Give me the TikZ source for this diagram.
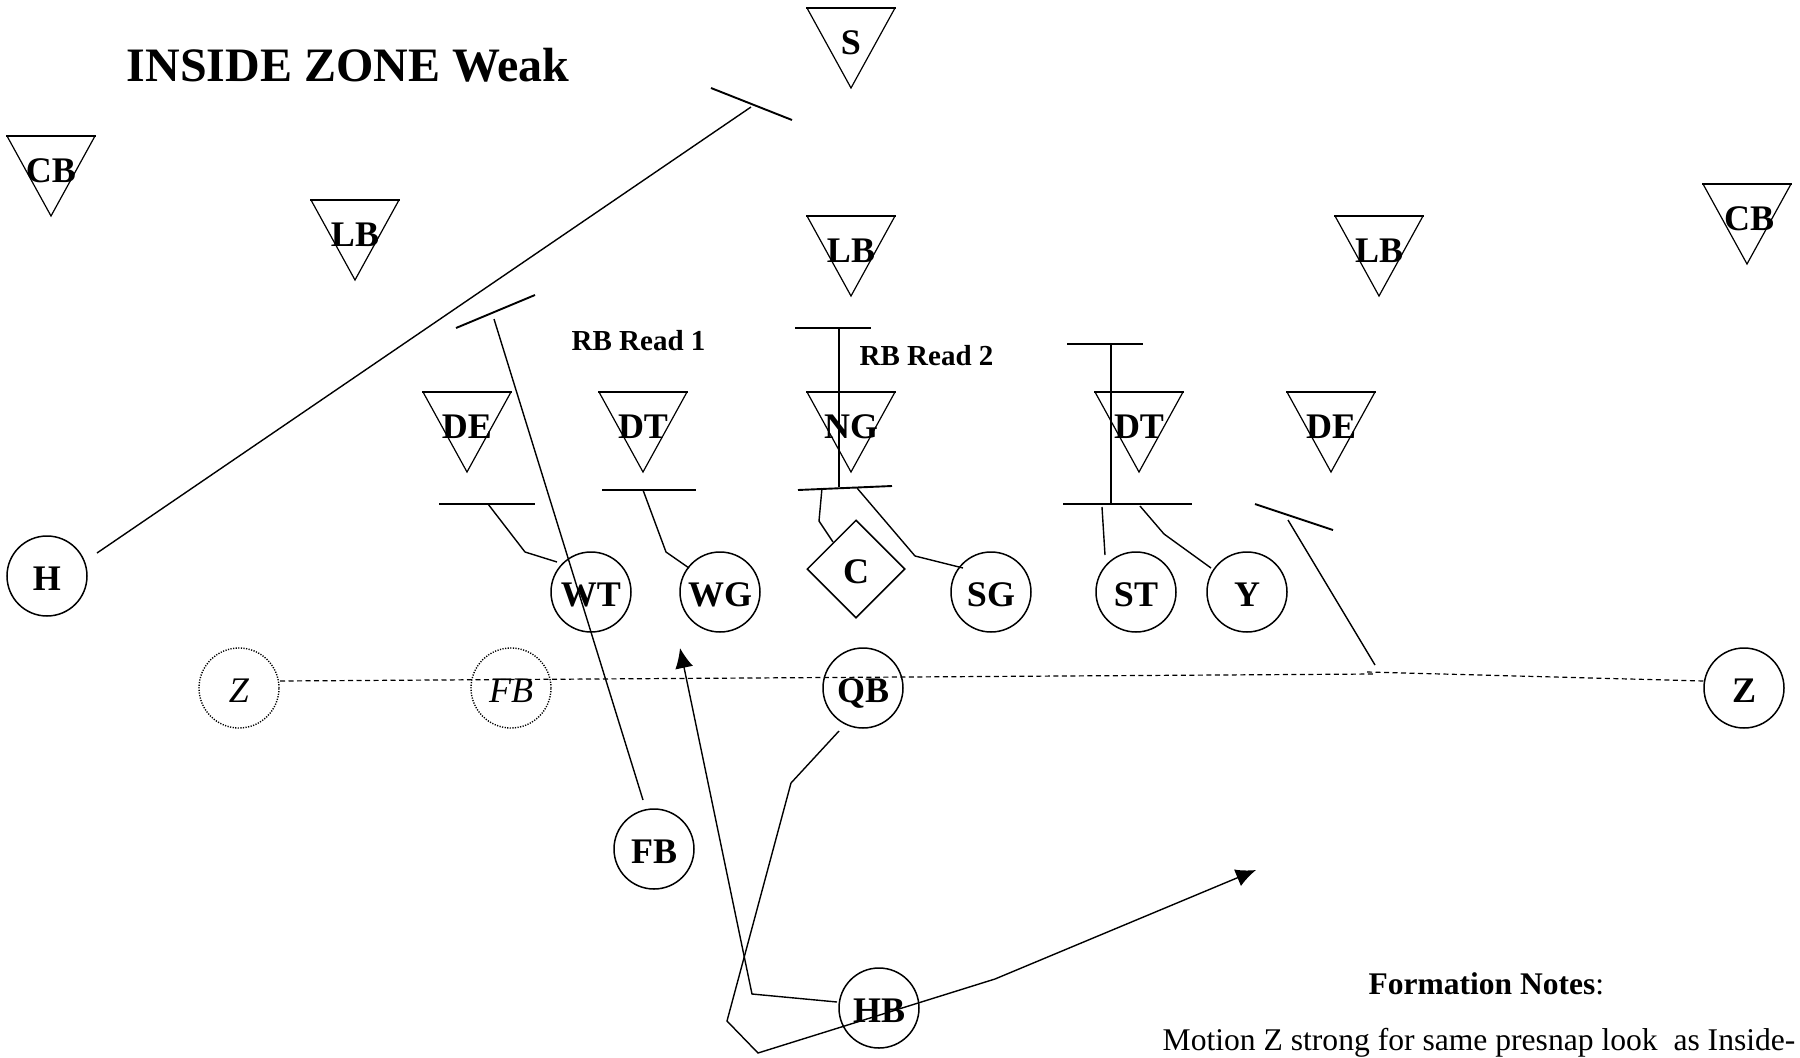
\documentclass[tikz,border=0pt]{standalone}
\usepackage{fontspec}
\setmainfont{Liberation Serif}
\usetikzlibrary{arrows.meta,shapes.geometric}
\begin{document}
\begin{tikzpicture}[x=1pt,y=-1pt,
  line width=1.4pt,
  player/.style={circle,draw,line width=1.5pt,minimum size=80pt,inner sep=0pt,text height=28pt,text depth=0pt,font=\fontsize{36}{40}\selectfont\bfseries},
  ghost/.style={circle,draw,dash pattern=on 1.2pt off 1.4pt,line width=1.4pt,minimum size=80pt,inner sep=0pt,text height=28pt,text depth=0pt,font=\fontsize{36}{40}\selectfont\itshape},
  center/.style={diamond,draw,line width=1.5pt,minimum size=98pt,inner sep=0pt,text height=28pt,text depth=0pt,font=\fontsize{36}{40}\selectfont\bfseries},
  dlabel/.style={inner sep=0pt,text height=26pt,text depth=0pt,font=\fontsize{36}{40}\selectfont\bfseries},
  route/.style={line width=1.4pt,line join=miter},
  barline/.style={line width=1.9pt},
  motion/.style={dash pattern=on 5pt off 3.5pt,line width=1.2pt},
  tip/.style={-{Latex[length=20pt,width=18pt]}},
  defender/.pic={\draw[line width=1.2pt] (-44,0) -- (0,80) -- (44,0); \draw[line width=2.8pt] (-45,0) -- (45,0);}
]
\useasboundingbox (0,0) rectangle (1800,1058);
\clip (0,0) rectangle (1800,1058);

% title and notes
\node[anchor=base west,inner sep=0pt,font=\fontsize{48}{52}\selectfont\bfseries] (title) at (126,81) {INSIDE ZONE Weak};
\node[anchor=base west,inner sep=0pt,font=\fontsize{29}{32}\selectfont\bfseries] (read1) at (571,350) {RB Read 1};
\node[anchor=base west,inner sep=0pt,font=\fontsize{29}{32}\selectfont\bfseries] (read2) at (859,365) {RB Read 2};
\node[anchor=base west,inner sep=0pt,font=\fontsize{31.5}{34}\selectfont] (fnotes) at (1368,994) {\textbf{Formation Notes}:};
\node[anchor=base west,inner sep=0pt,font=\fontsize{31.6}{35}\selectfont] (motiontext) at (1162,1050) {Motion Z strong for same presnap look~ as Inside-};

% defenders
\pic at (851,8) {defender};   \node[dlabel] (S) at (851,41) {S};
\pic at (51,136) {defender};  \node[dlabel] (CBl) at (51,169) {CB};
\pic at (355,200) {defender}; \node[dlabel] (LBl) at (355,233) {LB};
\pic at (851,216) {defender}; \node[dlabel] (LBm) at (851,249) {LB};
\pic at (1379,216) {defender};\node[dlabel] (LBr) at (1379,249) {LB};
\pic at (1747,184) {defender};\node[dlabel] (CBr) at (1749,217) {CB};
\pic at (467,392) {defender}; \node[dlabel] (DEl) at (467,425) {DE};
\pic at (643,392) {defender}; \node[dlabel] (DTl) at (643,425) {DT};
\pic at (851,392) {defender}; \node[dlabel] (NG) at (851,425) {NG};
\pic at (1139,392) {defender};\node[dlabel] (DTr) at (1139,425) {DT};
\pic at (1331,392) {defender};\node[dlabel] (DEr) at (1331,425) {DE};

% offense
\node[player] (H) at (47,576) {H};
\node[player] (WT) at (591,592) {WT};
\node[player] (WG) at (720,592) {WG};
\node[center] (C) at (856,569) {C};
\node[player] (SG) at (991,592) {SG};
\node[player] (ST) at (1136,592) {ST};
\node[player] (Y) at (1247,592) {Y};
\node[player] (QB) at (863,688) {QB};
\node[player] (Z) at (1744,688) {Z};
\node[ghost] (Zg) at (239,688) {Z};
\node[ghost] (FBg) at (511,688) {FB};
\node[player] (FB) at (654,849) {FB};
\node[player] (HB) at (879,1008) {HB};

% coordinates
\coordinate (Hs) at (97,553);   \coordinate (He) at (751,107);
\coordinate (Sb1) at (711,88);  \coordinate (Sb2) at (792,120);
\coordinate (FBs) at (643,800); \coordinate (FBe) at (494,319);
\coordinate (Fb1) at (456,328); \coordinate (Fb2) at (535,295);
\coordinate (HBs) at (837,1002);\coordinate (HBk) at (752,994); \coordinate (HBt) at (680,648);
\coordinate (QBs) at (839,731); \coordinate (Q1) at (791,783); \coordinate (Q2) at (727,1021);
\coordinate (Q3) at (758,1053); \coordinate (Q4) at (995,979); \coordinate (QBt) at (1256,870);
\coordinate (WTs) at (557,562); \coordinate (WTk) at (525,552); \coordinate (WTe) at (488,504);
\coordinate (Wb1) at (439,504); \coordinate (Wb2) at (535,504);
\coordinate (WGs) at (689,568); \coordinate (WGk) at (666,552); \coordinate (WGe) at (643,490);
\coordinate (Gb1) at (602,490); \coordinate (Gb2) at (696,490);
\coordinate (Cs) at (833,542);  \coordinate (Ck) at (819,521);  \coordinate (Ce) at (822,488);
\coordinate (Nb1) at (798,490); \coordinate (Nb2) at (892,486);
\coordinate (SGs) at (963,568); \coordinate (SGk) at (915,556); \coordinate (SGe) at (857,488);
\coordinate (Nv1) at (839,487); \coordinate (Nv2) at (839,328);
\coordinate (Nt1) at (795,328); \coordinate (Nt2) at (871,328);
\coordinate (Dv1) at (1111,504);\coordinate (Dv2) at (1111,344);
\coordinate (Dt1) at (1067,344);\coordinate (Dt2) at (1143,344);
\coordinate (Db1) at (1063,504);\coordinate (Db2) at (1192,504);
\coordinate (STs) at (1105,555);\coordinate (STe) at (1102,507);
\coordinate (Ys) at (1211,568); \coordinate (Yk) at (1164,534); \coordinate (Ye) at (1140,506);
\coordinate (Zs) at (1375,665); \coordinate (Ze) at (1288,520);
\coordinate (Zb1) at (1255,504);\coordinate (Zb2) at (1333,530);
\coordinate (M1) at (280,681);  \coordinate (M2) at (1375,674);
\coordinate (M3) at (1367,672); \coordinate (M4) at (1704,681);

% motion
\draw[motion] (M1) -- (M2);
\draw[motion] (M3) -- (M4);

% routes
\draw[route] (Hs) -- (He);
\draw[barline] (Sb1) -- (Sb2);
\draw[route] (FBs) -- (FBe);
\draw[barline] (Fb1) -- (Fb2);
\draw[route,tip] (HBs) -- (HBk) -- (HBt);
\draw[route,tip] (QBs) -- (Q1) -- (Q2) -- (Q3) -- (Q4) -- (QBt);
\draw[route] (WTs) -- (WTk) -- (WTe);
\draw[barline] (Wb1) -- (Wb2);
\draw[route] (WGs) -- (WGk) -- (WGe);
\draw[barline] (Gb1) -- (Gb2);
\draw[route] (Cs) -- (Ck) -- (Ce);
\draw[barline] (Nb1) -- (Nb2);
\draw[route] (SGs) -- (SGk) -- (SGe);
\draw[line width=1.2pt] (Nv1) -- (Nv2);
\draw[barline] (Nt1) -- (Nt2);
\draw[line width=1.2pt] (Dv1) -- (Dv2);
\draw[barline] (Dt1) -- (Dt2);
\draw[barline] (Db1) -- (Db2);
\draw[route] (STs) -- (STe);
\draw[route] (Ys) -- (Yk) -- (Ye);
\draw[route] (Zs) -- (Ze);
\draw[barline] (Zb1) -- (Zb2);
\end{tikzpicture}
\end{document}
